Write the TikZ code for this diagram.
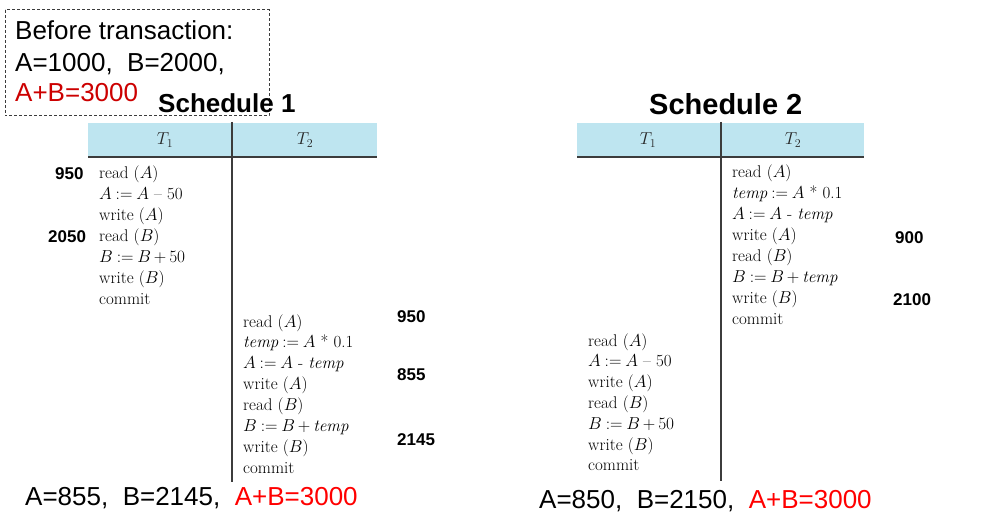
\documentclass[tikz,border=0pt]{standalone}
\usepackage{fontspec}
\newfontfamily\sansf{Liberation Sans}
\definecolor{headblue}{RGB}{190,229,240}
\definecolor{boxred}{RGB}{204,0,0}
\definecolor{linegray}{RGB}{60,60,60}
\newcommand{\tightmath}{\medmuskip=3mu\relax\thickmuskip=4mu\relax}
\begin{document}
\begin{tikzpicture}[x=1pt,y=-1pt,
  big/.style={font=\sansf\fontsize{26}{31}\selectfont, anchor=base west, inner sep=0pt},
  ttl/.style={font=\sansf\bfseries\fontsize{#1}{31}\selectfont, anchor=base west, inner sep=0pt},
  op/.style={font=\fontsize{17}{21}\selectfont, execute at begin node=\tightmath, anchor=base west, inner sep=0pt, text=black},
  val/.style={font=\sansf\bfseries\fontsize{17}{20}\selectfont, anchor=base west, inner sep=0pt},
  hd/.style={font=\fontsize{17}{21}\selectfont, inner sep=0pt, text=black!85},
  rule/.style={draw=linegray, line width=1.6pt}]
\useasboundingbox (0,0) rectangle (990,518);
% before box
\draw[linegray, line width=1pt, dash pattern=on 3pt off 2pt] (5,10) rectangle (269,116);
\node[big] (b1) at (15,40) {Before transaction:};
\node[big] (b2) at (15,72) {A=1000,\ \ B=2000,};
\node[big, text=boxred] (b3) at (15,102) {A+B=3000};
% titles
\node[ttl=26] (t1) at (158,113) {Schedule 1};
\node[ttl=29] (t2) at (649,115) {Schedule 2};
% schedule 1 table
\fill[headblue] (88,123) rectangle (377,157);
\draw[rule] (88,157) -- (377,157);
\draw[rule] (232,122) -- (232,482);
\node[hd] (h11) at (165,140) {$T_1$};
\node[hd] (h12) at (305,140) {$T_2$};
% schedule 2 table
\fill[headblue] (577,123) rectangle (864,157);
\draw[rule] (577,157) -- (864,157);
\draw[rule] (721,122) -- (721,481);
\node[hd] (h21) at (648,140) {$T_1$};
\node[hd] (h22) at (793,140) {$T_2$};
% schedule 1, T1
\foreach \t [count=\i] in {{read ($A$)},{$A := A$ -- 50},{write ($A$)},{read ($B$)},{$B := B + 50$},{write ($B$)},{commit}}
  \node[op] (sa\i) at (99,{179+21*(\i-1)}) {\t};
% schedule 1, T2
\foreach \t [count=\i] in {{read ($A$)},{$\mathit{temp} := A$ * 0.1},{$A := A$ - $\mathit{temp}$},{write ($A$)},{read ($B$)},{$B := B + \mathit{temp}$},{write ($B$)},{commit}}
  \node[op] (sb\i) at (243,{327+20.86*(\i-1)}) {\t};
% schedule 2, T2
\foreach \t [count=\i] in {{read ($A$)},{$\mathit{temp} := A$ * 0.1},{$A := A$ - $\mathit{temp}$},{write ($A$)},{read ($B$)},{$B := B + \mathit{temp}$},{write ($B$)},{commit}}
  \node[op] (sc\i) at (732,{178+21*(\i-1)}) {\t};
% schedule 2, T1
\foreach \t [count=\i] in {{read ($A$)},{$A := A$ -- 50},{write ($A$)},{read ($B$)},{$B := B + 50$},{write ($B$)},{commit}}
  \node[op] (sd\i) at (588,{346+20.83*(\i-1)}) {\t};
% values
\node[val] (v1) at (55,180) {950};
\node[val] (v2) at (48,243) {2050};
\node[val] (v3) at (397,323) {950};
\node[val] (v4) at (397,380) {855};
\node[val] (v5) at (397,445) {2145};
\node[val] (v6) at (895,244) {900};
\node[val] (v7) at (893,306) {2100};
% results
\node[big] (r1) at (25,505) {A=855,\ \ B=2145,\ \ \textcolor{red}{A+B=3000}};
\node[big] (r2) at (539,508) {A=850,\ \ B=2150,\ \ \textcolor{red}{A+B=3000}};
\end{tikzpicture}
\end{document}
